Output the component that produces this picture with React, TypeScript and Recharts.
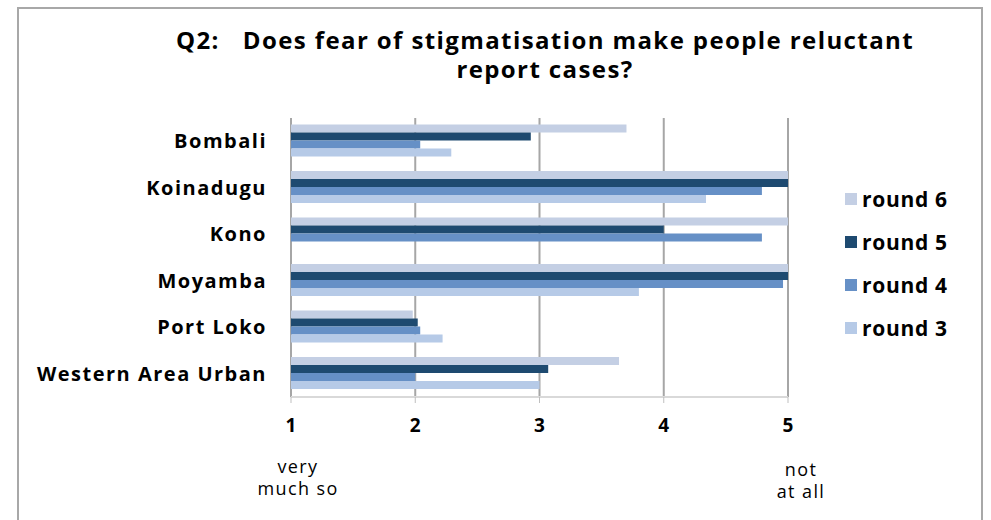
import React from "react"
import { BarChart, Bar, XAxis, YAxis, CartesianGrid } from "recharts"

const categories = ["Bombali", "Koinadugu", "Kono", "Moyamba", "Port Loko", "Western Area Urban"]
const round6 = [3.7, 5, 5, 5, 1.98, 3.64]
const round5 = [2.93, 5, 4, 5, 2.02, 3.07]
const round4 = [2.04, 4.79, 4.79, 4.96, 2.04, 2.0]
const round3: (number | null)[] = [2.29, 4.34, null, 3.8, 2.22, 3.0]
const xTicks = [1, 2, 3, 4, 5]

const seriesNames = ["round 6", "round 5", "round 4", "round 3"]
const seriesKeys = ["r6", "r5", "r4", "r3"]
const colors = ["#c4cfe4", "#1e4a70", "#6690c6", "#b6cae7"]

const data = categories.map((name, i) => ({
  name,
  r6: round6[i],
  r5: round5[i],
  r4: round4[i],
  r3: round3[i],
}))

const font = "'Open Sans', sans-serif"

function CategoryTick(props: any) {
  const { y, payload } = props
  return (
    <text x={267} y={y} dy={7} textAnchor="end" fontFamily={font} fontWeight={700} fontSize={20} letterSpacing={1.5} fill="#000">
      {payload.value}
    </text>
  )
}

export default function App() {
  return (
    <div style={{ position: "absolute", left: 0, top: 0, width: 991, height: 520, background: "#fff", fontFamily: font, overflow: "hidden" }}>
      <div style={{ position: "absolute", left: 17, top: 7, width: 962, height: 530, border: "2px solid #a8a8a8" }} />
      <div style={{ position: "absolute", left: 100, width: 890, top: 25, textAlign: "center", fontWeight: 700, fontSize: 24, lineHeight: "29px", letterSpacing: 1.4, whiteSpace: "pre", color: "#000" }}>
        {"Q2:   Does fear of stigmatisation make people reluctant\nreport cases?"}
      </div>
      <BarChart
        width={991}
        height={520}
        data={data}
        layout="vertical"
        margin={{ top: 118, right: 203, bottom: 93, left: 0 }}
        barCategoryGap="14%"
        barGap={0}
      >
        <CartesianGrid horizontal={false} stroke="#a6a6a6" strokeWidth={2} verticalValues={xTicks} />
        <XAxis
          type="number"
          domain={[1, 5]}
          ticks={xTicks}
          height={30}
          stroke="#d9d9d9"
          strokeWidth={2}
          tickLine={{ stroke: "#bfbfbf", strokeWidth: 1 }}
          tickSize={6}
          tickMargin={16}
          tick={{ fontFamily: font, fontWeight: 700, fontSize: 19, fill: "#000" }}
        />
        <YAxis type="category" dataKey="name" width={291} axisLine={false} tickLine={false} tick={<CategoryTick />} />
        {seriesKeys.map((k, i) => (
          <Bar key={k} dataKey={k} name={seriesNames[i]} fill={colors[i]} isAnimationActive={false} />
        ))}
      </BarChart>
      <div style={{ position: "absolute", left: 298, top: 455, transform: "translateX(-50%)", textAlign: "center", fontSize: 18, lineHeight: "22px", letterSpacing: 1.4, color: "#000", whiteSpace: "nowrap" }}>
        very<br />much so
      </div>
      <div style={{ position: "absolute", left: 801, top: 458, transform: "translateX(-50%)", textAlign: "center", fontSize: 18, lineHeight: "22px", letterSpacing: 1.4, color: "#000", whiteSpace: "nowrap" }}>
        not<br />at all
      </div>
      <div style={{ position: "absolute", left: 845, top: 177 }}>
        {seriesNames.map((n, i) => (
          <div key={n} style={{ display: "flex", alignItems: "center", height: 43 }}>
            <div style={{ width: 12, height: 12, background: colors[i], marginRight: 5 }} />
            <span style={{ fontWeight: 700, fontSize: 21, letterSpacing: 0.7, color: "#000" }}>{n}</span>
          </div>
        ))}
      </div>
    </div>
  )
}
